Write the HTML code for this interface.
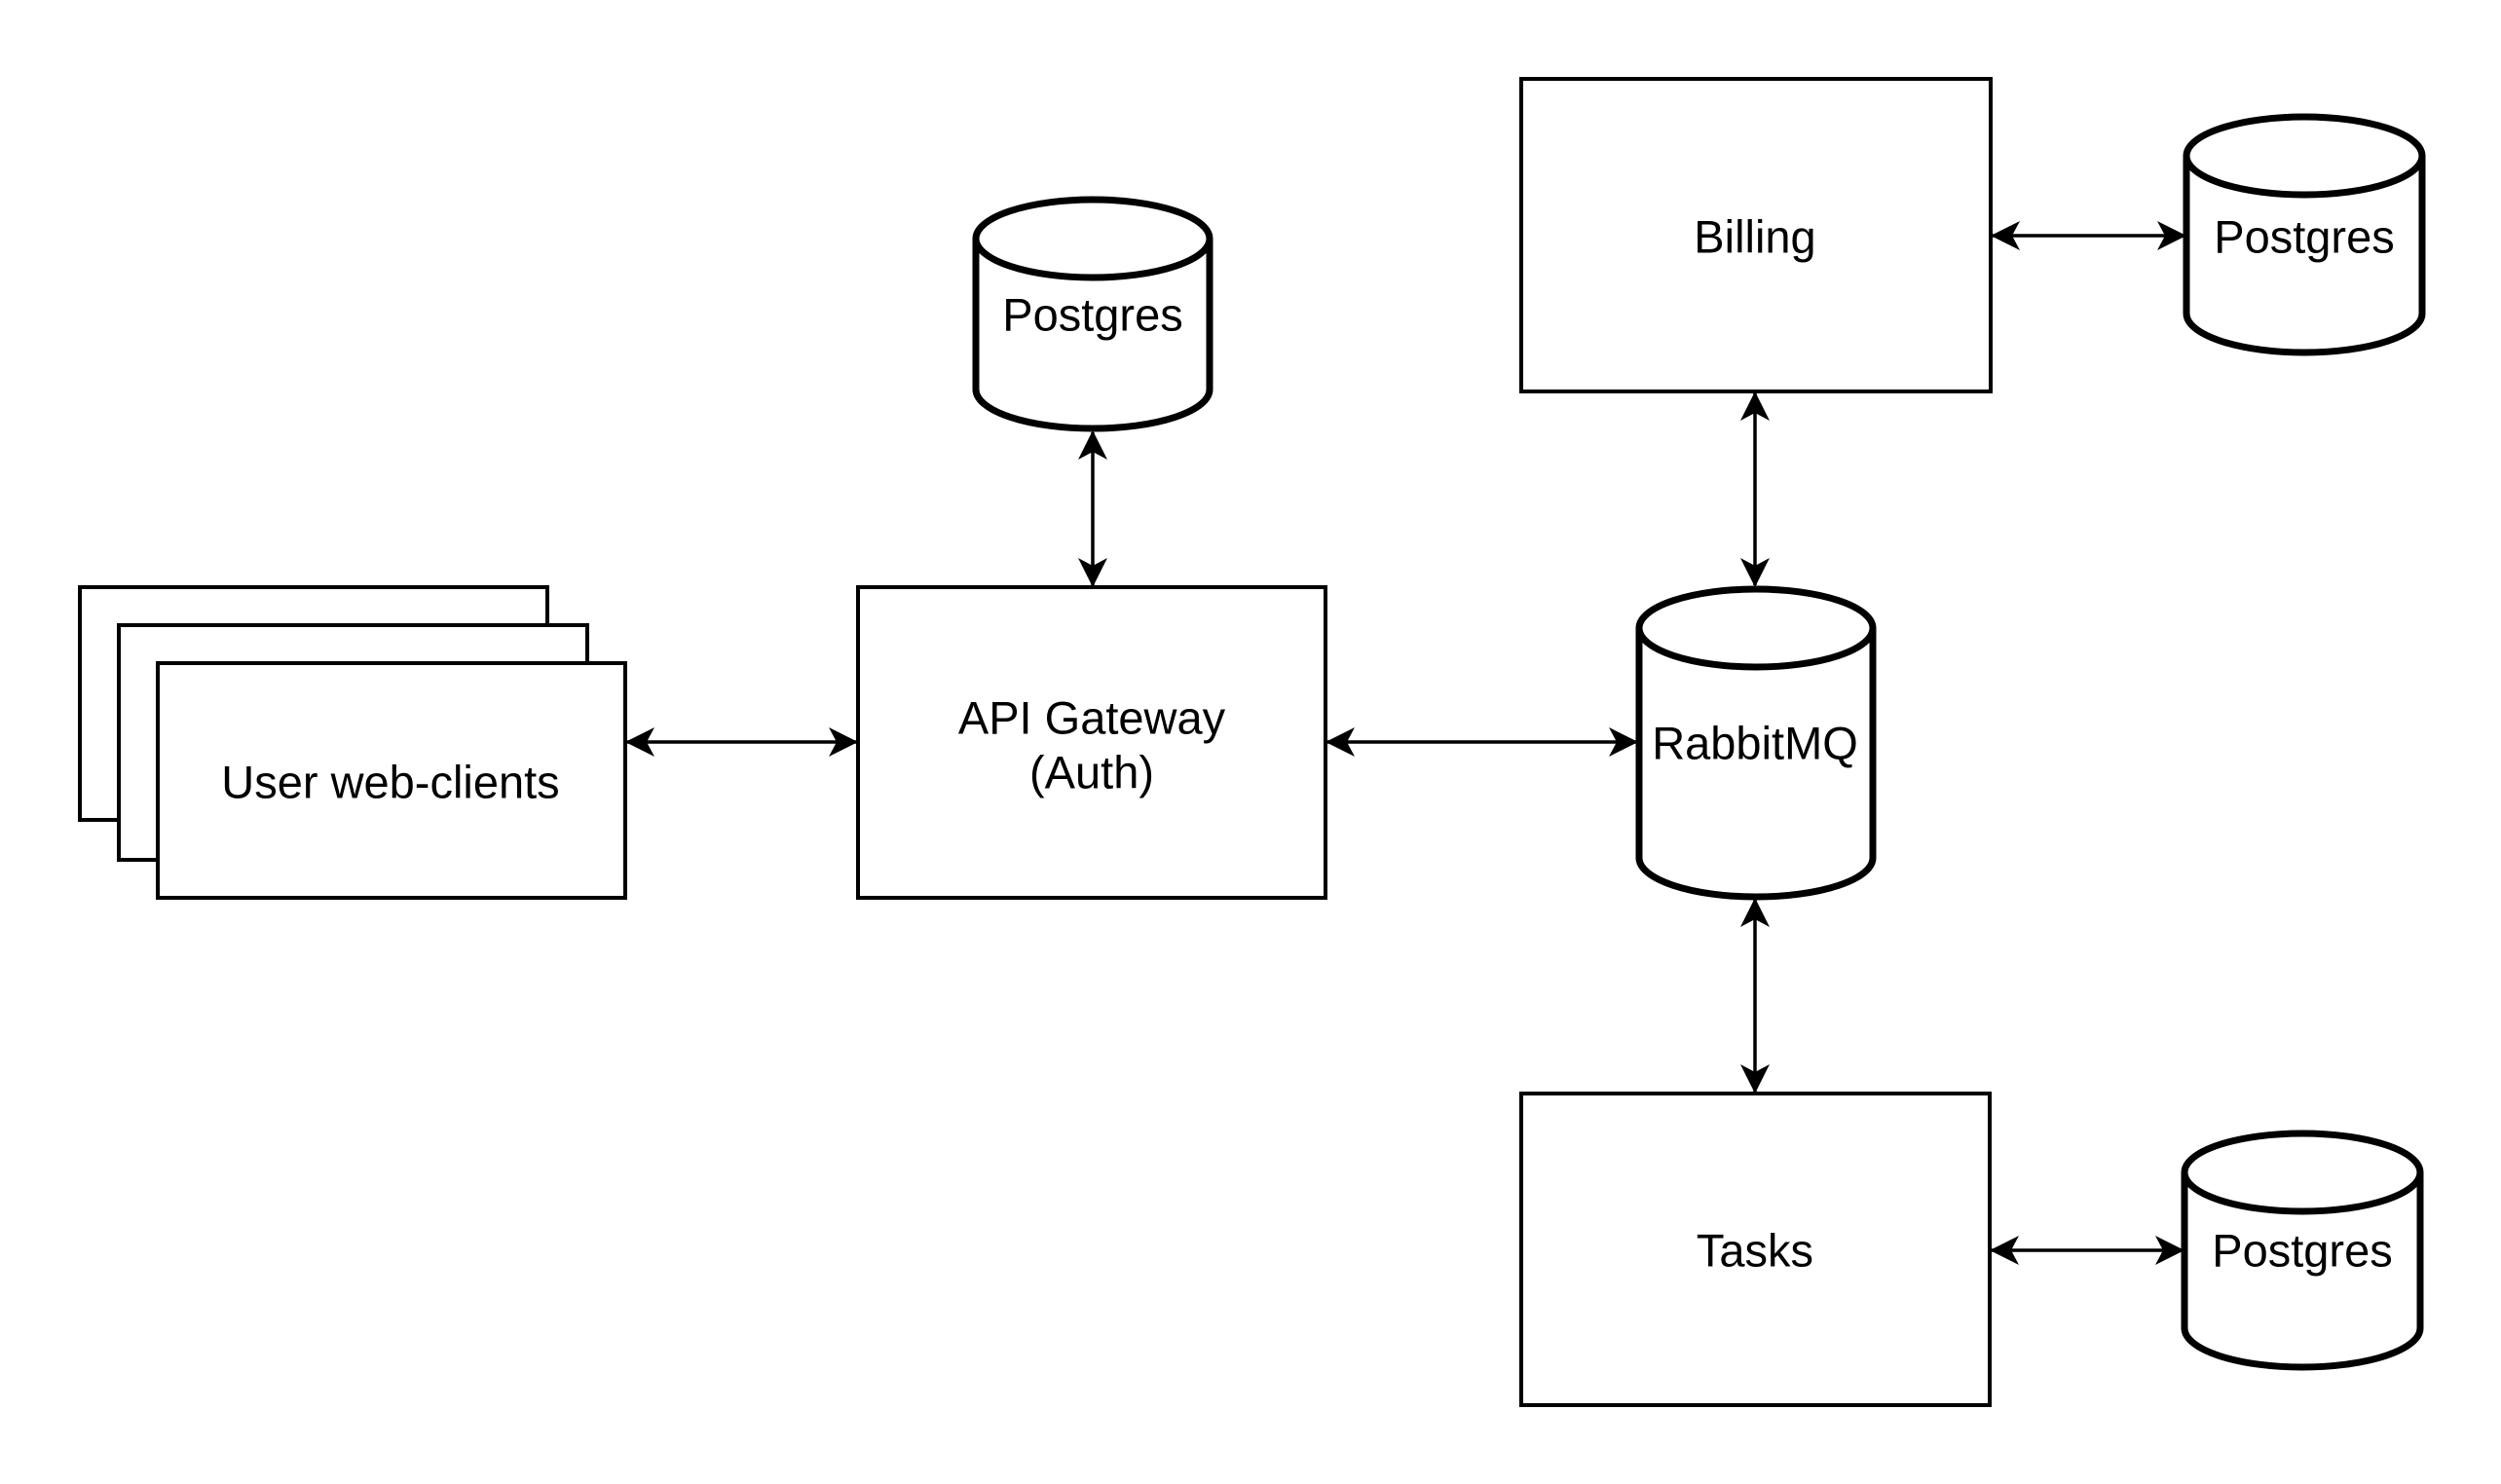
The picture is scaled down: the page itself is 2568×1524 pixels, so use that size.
<!DOCTYPE html>
<html><head><meta charset="utf-8"><style>
html,body{margin:0;padding:0;background:#fff;}
svg{display:block;}
text{font-family:"Liberation Sans",Arial,sans-serif;font-size:47px;fill:#000;text-anchor:middle;dominant-baseline:central;}
</style></head><body>
<svg width="2568" height="1524" viewBox="0 0 2568 1524" xmlns="http://www.w3.org/2000/svg">
<defs>
<marker id="a" viewBox="0 0 30 30" refX="28" refY="15" markerWidth="30" markerHeight="30" markerUnits="userSpaceOnUse" orient="auto-start-reverse">
<path d="M0,0 L30,15 L0,30 L8,15 Z" fill="#000"/>
</marker>
</defs>
<g fill="#fff" stroke="#000" stroke-width="4">
<rect x="82" y="603" width="480" height="239"/>
<rect x="122" y="642" width="481" height="241"/>
<rect x="162" y="681" width="480" height="241"/>
<rect x="881" y="603" width="480" height="319"/>
<rect x="1562" y="81" width="482" height="321"/>
<rect x="1562" y="1123" width="481" height="320"/>
</g>
<g fill="#fff" stroke="#000" stroke-width="7">
<path d="M1002,245 a120,40 0 0 1 240,0 v155 a120,40 0 0 1 -240,0 Z"/>
<path d="M1002,245 a120,40 0 0 0 240,0"/>
<path d="M2245,160 a121,40 0 0 1 242,0 v162 a121,40 0 0 1 -242,0 Z"/>
<path d="M2245,160 a121,40 0 0 0 242,0"/>
<path d="M2243,1204 a121,40 0 0 1 242,0 v160 a121,40 0 0 1 -242,0 Z"/>
<path d="M2243,1204 a121,40 0 0 0 242,0"/>
<path d="M1683,645 a120,40 0 0 1 240,0 v236 a120,40 0 0 1 -240,0 Z"/>
<path d="M1683,645 a120,40 0 0 0 240,0"/>
</g>
<g stroke="#000" stroke-width="3.5" fill="none" marker-start="url(#a)" marker-end="url(#a)">
<line x1="644" y1="762" x2="879" y2="762"/>
<line x1="1363" y1="762" x2="1680" y2="762"/>
<line x1="1122" y1="444" x2="1122" y2="601"/>
<line x1="1802" y1="404" x2="1802" y2="601"/>
<line x1="1802" y1="924" x2="1802" y2="1121"/>
<line x1="2046" y1="242" x2="2243" y2="242"/>
<line x1="2045" y1="1284" x2="2241" y2="1284"/>
</g>
<text x="401" y="803">User web-clients</text>
<text x="1121" y="737">API Gateway</text>
<text x="1121" y="793">(Auth)</text>
<text x="1122" y="323">Postgres</text>
<text x="1802" y="243">Billing</text>
<text x="2366" y="243">Postgres</text>
<text x="1802" y="763">RabbitMQ</text>
<text x="1802" y="1284">Tasks</text>
<text x="2364" y="1284">Postgres</text>
</svg>
</body></html>
